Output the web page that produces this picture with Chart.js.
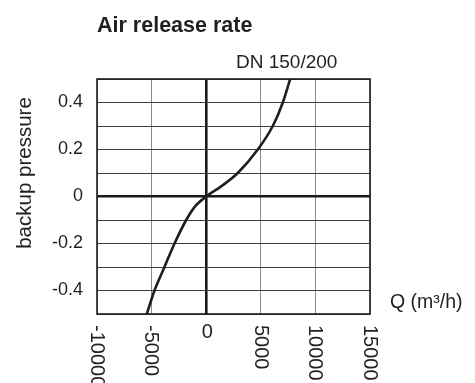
<!DOCTYPE html>
<html>
<head>
<meta charset="utf-8">
<script src="https://cdn.jsdelivr.net/npm/chart.js@4/dist/chart.umd.min.js"></script>
<style>
  html, body { margin: 0; padding: 0; background: #fff; }
  #wrap { width: 475px; height: 383px; position: relative; }
</style>
</head>
<body>
<div id="wrap"><canvas id="c" width="475" height="383"></canvas></div>
<script>
// Flow through the valve (m³/h) and the matching backup pressure
const flowQ = [-5440, -4735, -3820, -2900, -1830, -1070, 0, 1370, 2890, 4725, 6100, 7015, 7690];
const backupPressure = [-0.5, -0.4, -0.3, -0.2, -0.1, -0.045, 0, 0.043, 0.1, 0.2, 0.3, 0.4, 0.5];

// Axis ticks
const xTickValues = [-10000, -5000, 0, 5000, 10000, 15000];
const yLabelledTicks = [0.4, 0.2, 0, -0.2, -0.4];

const chartTitle = 'Air release rate';
const seriesLabel = 'DN 150/200';
const xAxisTitle = 'Q (m³/h)';
const yAxisTitle = 'backup pressure';

const INK = '#231f20';
const FONT = '"Liberation Sans", Arial, Helvetica, sans-serif';

// Frame, titles and rotated x labels
const decorations = {
  id: 'decorations',
  beforeDatasetsDraw(chart) {
    const { ctx, chartArea: a } = chart;
    ctx.save();
    ctx.strokeStyle = '#1e1e1e';
    ctx.lineWidth = 1.6;
    ctx.strokeRect(a.left, a.top, a.right - a.left, a.bottom - a.top);
    ctx.restore();
  },
  afterDraw(chart) {
    const { ctx, chartArea: a } = chart;
    const xs = chart.scales.x;
    ctx.save();
    ctx.fillStyle = INK;

    // chart title
    ctx.font = 'bold 21.5px ' + FONT;
    ctx.textAlign = 'left';
    ctx.textBaseline = 'alphabetic';
    ctx.fillText(chartTitle, a.left, 32);

    // series label above the grid
    ctx.font = '19px ' + FONT;
    ctx.fillText(seriesLabel, 236, 68);

    // x axis title to the right of the grid
    ctx.font = '19.5px ' + FONT;
    ctx.fillText(xAxisTitle, a.right + 20, 308);

    // y axis title, reading upwards
    ctx.save();
    ctx.font = '20.5px ' + FONT;
    ctx.translate(31, 173);
    ctx.rotate(-Math.PI / 2);
    ctx.textAlign = 'center';
    ctx.fillText(yAxisTitle, 0, 0);
    ctx.restore();

    // x tick labels, reading downwards (zero stays upright)
    const fs = 20;
    ctx.font = fs + 'px ' + FONT;
    const top = a.bottom + 11;
    xTickValues.forEach(v => {
      const px = xs.getPixelForValue(v) + 1;
      const txt = String(v);
      if (v === 0) {
        ctx.textAlign = 'center';
        ctx.textBaseline = 'alphabetic';
        ctx.fillText(txt, px, top + 0.72 * fs - 1);
      } else {
        ctx.save();
        ctx.translate(px, top);
        ctx.rotate(Math.PI / 2);
        ctx.textAlign = 'left';
        ctx.textBaseline = 'alphabetic';
        ctx.fillText(txt, 0, 0.358 * fs);
        ctx.restore();
      }
    });
    ctx.restore();
  }
};

new Chart(document.getElementById('c'), {
  type: 'scatter',
  data: {
    datasets: [{
      label: seriesLabel,
      data: flowQ.map((q, i) => ({ x: q, y: backupPressure[i] })),
      showLine: true,
      borderColor: '#1e1e1e',
      borderWidth: 2.6,
      pointRadius: 0,
      pointHoverRadius: 0,
      fill: false,
      cubicInterpolationMode: 'monotone'
    }]
  },
  options: {
    responsive: false,
    animation: false,
    events: [],
    layout: { padding: { top: 79, right: 105, left: 0, bottom: 0 } },
    plugins: {
      legend: { display: false },
      tooltip: { enabled: false },
      title: { display: false }
    },
    scales: {
      x: {
        type: 'linear',
        min: -10000,
        max: 15000,
        afterFit(scale) { scale.height = 69; },
        ticks: { stepSize: 5000, display: false },
        border: { display: false },
        grid: {
          drawTicks: false,
          color: c => c.tick.value === 0 ? '#1a1a1a' : '#8a8a8a',
          lineWidth: c => c.tick.value === 0 ? 2.6 : 1
        }
      },
      y: {
        type: 'linear',
        min: -0.5,
        max: 0.5,
        afterFit(scale) { scale.width = 97; },
        ticks: {
          stepSize: 0.1,
          padding: 14,
          color: INK,
          font: { family: FONT, size: 18 },
          autoSkip: false,
          callback(value) {
            const r = Math.round(value * 10) / 10;
            return yLabelledTicks.some(t => Math.abs(t - r) < 1e-9) ? String(r) : '';
          }
        },
        border: { display: false },
        grid: {
          drawTicks: false,
          color: c => Math.abs(c.tick.value) < 1e-9 ? '#1a1a1a' : '#3c3c3c',
          lineWidth: c => Math.abs(c.tick.value) < 1e-9 ? 2.6 : 1
        }
      }
    }
  },
  plugins: [decorations]
});
</script>
</body>
</html>
